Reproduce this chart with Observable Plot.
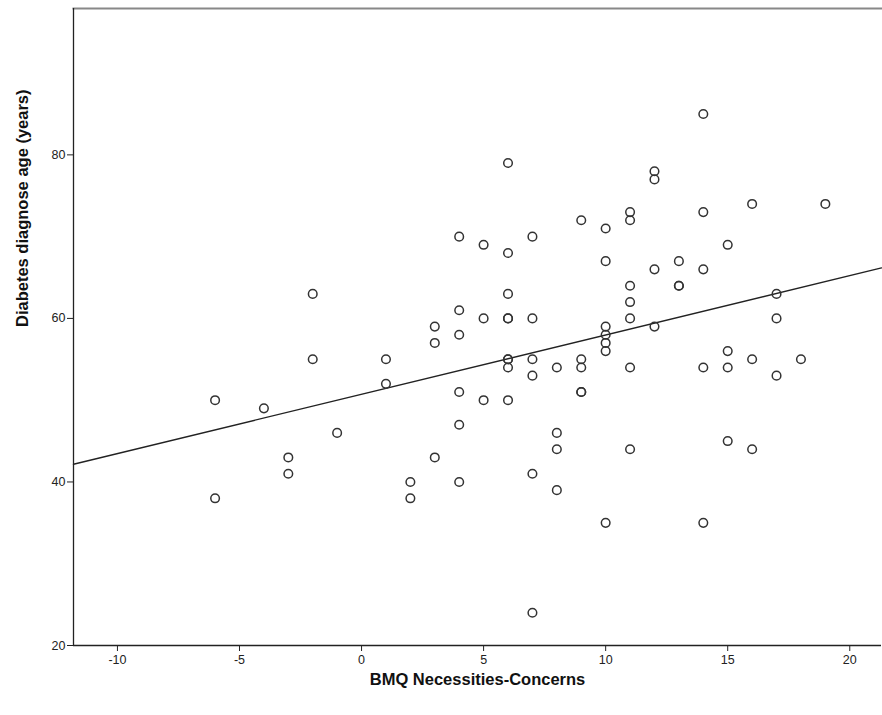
<!DOCTYPE html>
<html>
<head>
<meta charset="utf-8">
<script src="https://cdn.jsdelivr.net/npm/d3@7"></script>
<script src="https://cdn.jsdelivr.net/npm/@observablehq/plot@0.6"></script>
<style>
  html, body { margin: 0; padding: 0; background: #fff; }
  #chart { width: 882px; height: 715px; }
</style>
</head>
<body>
<div id="chart"></div>
<script>
// BMQ Necessities-Concerns score (x) and diabetes diagnose age (y)
const bmq = [
  -6, -6, -4, -3, -3, -2, -2, -1,
  1, 1, 2, 2, 3, 3, 3,
  4, 4, 4, 4, 4, 4,
  5, 5, 5,
  6, 6, 6, 6, 6, 6, 6, 6, 6,
  7, 7, 7, 7, 7, 7,
  8, 8, 8, 8,
  9, 9, 9, 9, 9,
  10, 10, 10, 10, 10, 10, 10,
  11, 11, 11, 11, 11, 11, 11,
  12, 12, 12, 12,
  13, 13, 13,
  14, 14, 14, 14, 14,
  15, 15, 15, 15,
  16, 16, 16,
  17, 17, 17,
  18, 19
];
const diagAge = [
  50, 38, 49, 43, 41, 63, 55, 46,
  55, 52, 40, 38, 59, 57, 43,
  70, 61, 58, 51, 47, 40,
  69, 60, 50,
  79, 68, 63, 60, 60, 55, 55, 54, 50,
  70, 60, 55, 53, 41, 24,
  54, 46, 44, 39,
  72, 55, 54, 51, 51,
  71, 67, 59, 58, 57, 56, 35,
  73, 72, 64, 62, 60, 54, 44,
  78, 77, 66, 59,
  67, 64, 64,
  85, 73, 66, 54, 35,
  69, 56, 54, 45,
  74, 55, 44,
  63, 60, 53,
  55, 74
];
const xTicks = [-10, -5, 0, 5, 10, 15, 20];
const yTicks = [20, 40, 60, 80];
const xDomain = [-11.8, 21.3];
const yDomain = [20, 97.9];

const points = bmq.map((x, i) => ({x, y: diagAge[i]}));

// least-squares fit line, spanning the full x range
const mx = d3.mean(bmq), my = d3.mean(diagAge);
const slope = d3.sum(points, d => (d.x - mx) * (d.y - my)) / d3.sum(points, d => (d.x - mx) ** 2);
const intercept = my - slope * mx;
const fit = xDomain.map(x => ({x, y: intercept + slope * x}));

const chart = Plot.plot({
  width: 882,
  height: 715,
  marginLeft: 73,
  marginRight: 1,
  marginTop: 8,
  marginBottom: 70,
  style: {fontFamily: "'Liberation Sans', Arial, sans-serif", fontSize: "12px", color: "#222", background: "#fff"},
  x: {domain: xDomain, ticks: xTicks, label: null},
  y: {domain: yDomain, ticks: yTicks, label: null},
  marks: [
    Plot.frame({anchor: "top", stroke: "#888", strokeWidth: 2}),
    Plot.axisX({ticks: xTicks, tickFormat: d => String(d), tickSize: 6, tickPadding: 4, fontSize: 12.5, stroke: "#222", fill: "#222", label: null}),
    Plot.axisY({ticks: yTicks, tickFormat: d => String(d), tickSize: 6, tickPadding: 2, fontSize: 12.5, stroke: "#222", fill: "#222", label: null}),
    Plot.ruleY([yDomain[0]], {stroke: "#222", strokeWidth: 1.3}),
    Plot.ruleX([xDomain[0]], {stroke: "#222", strokeWidth: 1.3}),
    Plot.line(fit, {x: "x", y: "y", stroke: "#222", strokeWidth: 1.4}),
    Plot.dot(points, {x: "x", y: "y", r: 4.3, stroke: "#333", strokeWidth: 1.5, fill: "none"}),
    Plot.text(["BMQ Necessities-Concerns"], {frameAnchor: "bottom", lineAnchor: "middle", dy: 34, fontSize: 16.5, fontWeight: "bold", fill: "#111"}),
    Plot.text(["Diabetes diagnose age (years)"], {frameAnchor: "left", dx: -51, rotate: -90, fontSize: 16.5, fontWeight: "bold", fill: "#111"})
  ]
});
chart.style.overflow = "visible";
document.getElementById("chart").appendChild(chart);
</script>
</body>
</html>
